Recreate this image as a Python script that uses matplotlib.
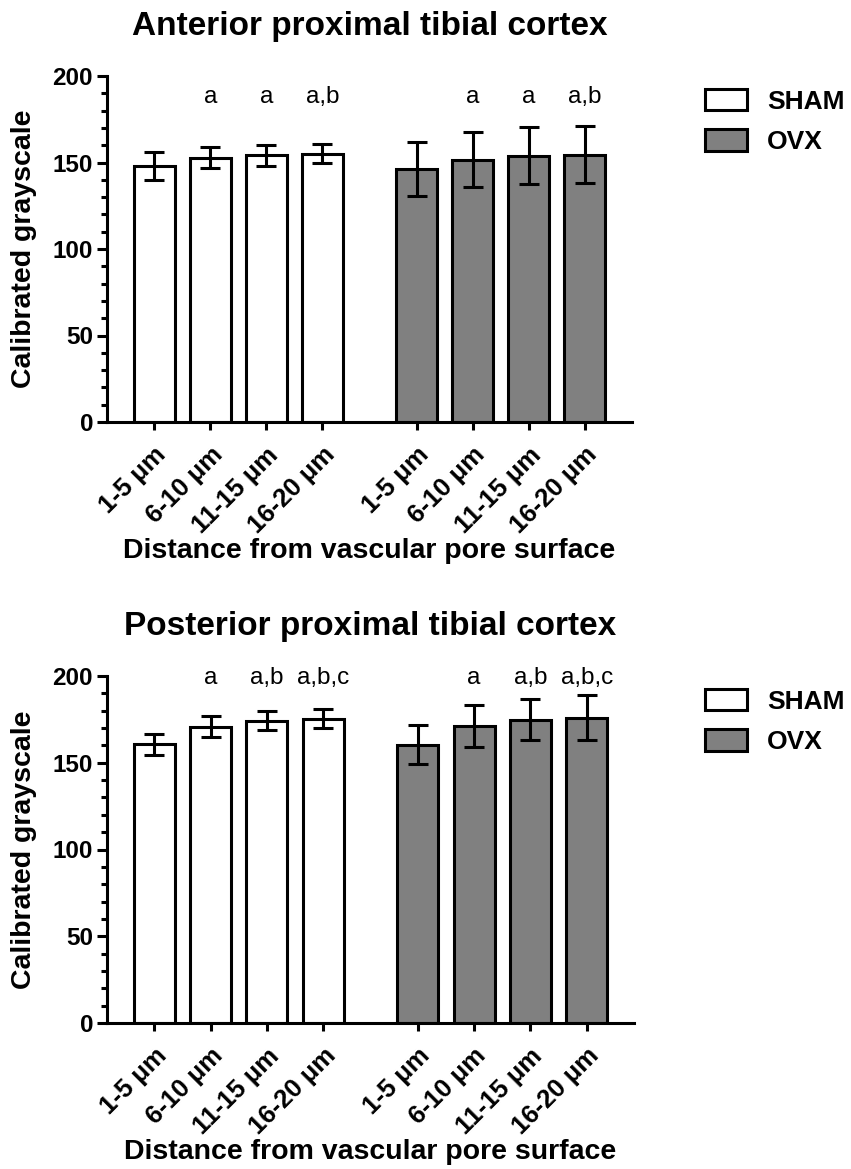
import numpy as np
import matplotlib
matplotlib.use('Agg')
import matplotlib.pyplot as plt
from matplotlib.patches import Patch
from matplotlib.ticker import MultipleLocator

plt.rcParams['font.family'] = ['Liberation Sans', 'DejaVu Sans']

categories = ['1-5 \u03bcm', '6-10 \u03bcm', '11-15 \u03bcm', '16-20 \u03bcm']
groups = ['SHAM', 'OVX']

# anterior cortex
ant_sham = [148, 152.7, 154.2, 155]
ant_sham_err = [8, 6, 6, 5.5]
ant_ovx = [146.3, 151.7, 153.8, 154.4]
ant_ovx_err = [15.5, 16, 16.5, 16.5]
ant_marks = ['', 'a', 'a', 'a,b']

# posterior cortex
post_sham = [160.7, 170.8, 174.1, 175.4]
post_sham_err = [6, 6, 5.5, 5.5]
post_ovx = [160.5, 171.2, 174.9, 176]
post_ovx_err = [11.5, 12, 12, 13]
post_marks = ['', 'a', 'a,b', 'a,b,c']

panels = [
    ('Anterior proximal tibial cortex', ant_sham, ant_sham_err, ant_ovx, ant_ovx_err, ant_marks, 188),
    ('Posterior proximal tibial cortex', post_sham, post_sham_err, post_ovx, post_ovx_err, post_marks, 199),
]

fig = plt.figure(figsize=(8.51, 11.69), dpi=100)
W, H = 851, 1169
boxes = [(107, 76, 525, 346), (107, 676, 527, 347)]

lw = 2.2
x_sham = np.arange(4)
x_ovx = np.arange(4) + 4.68

for (title, sham, sham_err, ovx, ovx_err, marks, mark_y), (l, t, w, h) in zip(panels, boxes):
    ax = fig.add_axes([l / W, 1 - (t + h) / H, w / W, h / H])
    ax.bar(x_sham, sham, width=0.73, color='white', edgecolor='black', linewidth=lw, label=groups[0])
    ax.bar(x_ovx, ovx, width=0.73, color='#808080', edgecolor='black', linewidth=lw, label=groups[1])
    ax.errorbar(x_sham, sham, yerr=sham_err, fmt='none', ecolor='black', elinewidth=lw, capsize=7, capthick=lw)
    ax.errorbar(x_ovx, ovx, yerr=ovx_err, fmt='none', ecolor='black', elinewidth=lw, capsize=7, capthick=lw)

    for xs in (x_sham, x_ovx):
        for xi, m in zip(xs, marks):
            if m:
                ax.text(xi, mark_y, m, ha='center', va='center', fontsize=17.5, clip_on=False)

    ax.set_xlim(-0.84, x_ovx[-1] + 0.84)
    ax.set_ylim(0, 200)
    ax.set_xticks(np.concatenate([x_sham, x_ovx]))
    ax.set_xticklabels(categories + categories, rotation=45, ha='right', rotation_mode='anchor',
                       fontsize=18.5, fontweight='bold')
    ax.set_yticks([0, 50, 100, 150, 200])
    ax.yaxis.set_minor_locator(MultipleLocator(10))
    for lab in ax.get_yticklabels():
        lab.set_fontweight('bold')
        lab.set_fontsize(17.5)
    ax.tick_params(axis='y', which='major', length=7, width=lw, pad=3)
    ax.tick_params(axis='y', which='minor', length=4, width=lw)
    ax.tick_params(axis='x', length=6, width=lw, pad=9)
    for s in ('top', 'right'):
        ax.spines[s].set_visible(False)
    for s in ('left', 'bottom'):
        ax.spines[s].set_linewidth(lw)

    ax.set_title(title, fontsize=24, fontweight='bold', pad=29.5)
    ax.set_ylabel('Calibrated grayscale', fontsize=20.5, fontweight='bold')
    ax.yaxis.set_label_coords(-0.133, 0.5)
    ax.set_xlabel('Distance from vascular pore surface', fontsize=20.5, fontweight='bold')
    ax.xaxis.set_label_coords(0.5, -0.335)

    handles = [Patch(facecolor='white', edgecolor='black', linewidth=lw),
               Patch(facecolor='#808080', edgecolor='black', linewidth=lw)]
    ax.legend(handles, groups, loc='upper left', bbox_to_anchor=(705 / W, 1 - (t + 13) / H),
              bbox_transform=fig.transFigure, frameon=False, borderpad=0, borderaxespad=0,
              handlelength=1.6, handleheight=0.85, handletextpad=0.75, labelspacing=0.6,
              prop={'weight': 'bold', 'size': 19})

fig.savefig('out.png', dpi=100, facecolor='white')
